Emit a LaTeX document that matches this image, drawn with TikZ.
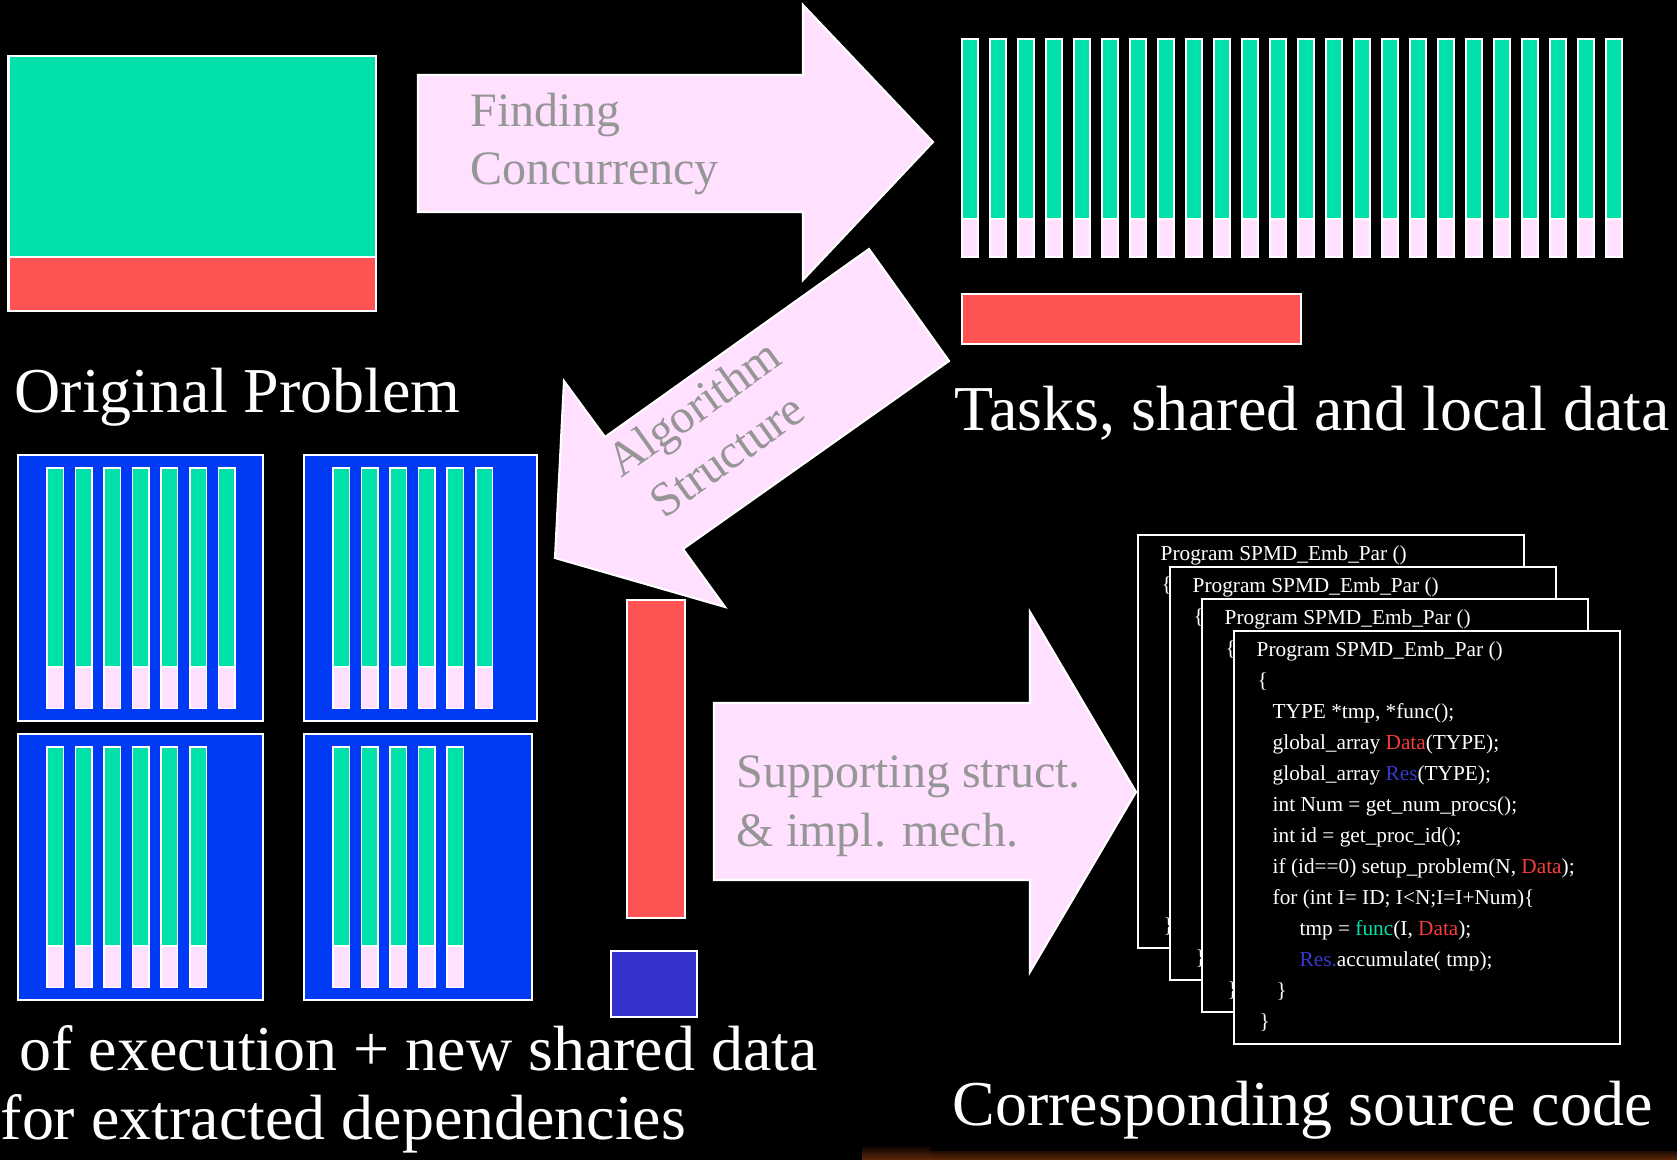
\documentclass[tikz,border=0pt]{standalone}
\usepackage{fontspec}
\setmainfont{Liberation Serif}
\definecolor{probgreen}{RGB}{0,226,170}
\definecolor{datared}{RGB}{255,82,82}
\definecolor{unitblue}{RGB}{0,58,245}
\definecolor{newblue}{RGB}{54,50,204}
\definecolor{stepink}{RGB}{255,224,255}
\definecolor{labelgray}{RGB}{150,150,150}
\definecolor{codered}{RGB}{245,60,60}
\definecolor{codeblue}{RGB}{55,55,210}
\definecolor{stripbrown}{RGB}{95,40,8}
\begin{document}
\begin{tikzpicture}[x=0.1mm,y=-0.1mm,
  box/.style={draw=white,line width=0.6pt},
  bar/.style={draw=white,line width=0.45pt},
  bigarrow/.style={fill=stepink,draw=white,line width=0.6pt},
  title/.style={text=white,font=\fontsize{18.2}{22}\selectfont,anchor=base west,inner sep=0pt},
  steptext/.style={text=labelgray,font=\fontsize{13.66}{16.5}\selectfont,inner sep=0pt},
  code/.style={text=white,font=\fontsize{6.06}{8}\selectfont,anchor=base west,inner sep=0pt}]
\fill[black] (0,0) rectangle (1677,1160);
\useasboundingbox (0,0) rectangle (1677,1160);

% original problem
\draw[box,fill=probgreen] (8.5,55.6) rectangle (376,257);
\draw[box,fill=datared] (8.5,257) rectangle (376,311);
\node (orig) at (14,413)[title] {Original Problem};

% tasks and data
\foreach \i in {0,...,23}
{
\draw[bar,fill=probgreen] ({962+28*\i},39) rectangle ({978+28*\i},219);
\draw[bar,fill=stepink] ({962+28*\i},219) rectangle ({978+28*\i},257);
}
\draw[box,fill=datared] (962,294) rectangle (1301,344);
\node (tasks) at (954,431)[title] {Tasks, shared and local data};

% units of execution
\foreach \px/\py/\pw/\n in {18.4/455/244.6/7, 304.4/455/232.6/6, 18.4/734/244.6/6, 304.4/734/227.3/5}
{
\draw[box,fill=unitblue] (\px,\py) rectangle ({\px+\pw},{\py+266});
\foreach \i in {1,...,\n}
 {
 \draw[bar,fill=probgreen] ({\px+28.4+28.6*(\i-1)},{\py+12.8}) rectangle ({\px+44.9+28.6*(\i-1)},{\py+212});
 \draw[bar,fill=stepink] ({\px+28.4+28.6*(\i-1)},{\py+212}) rectangle ({\px+44.9+28.6*(\i-1)},{\py+253.4});
 }
}
\draw[box,fill=datared] (627,600) rectangle (685,918);
\draw[box,fill=newblue] (611,951) rectangle (697,1017);
\node (exec) at (19,1071)[title] {of execution + new shared data};
\node (deps) at (0,1140)[title] {for extracted dependencies};

% arrows
\draw[bigarrow] (418,75) -- (803,75) -- (803,5) -- (933,142) -- (803,280) -- (803,212) -- (418,212) -- cycle;
\node (find1) at (470,127)[steptext,anchor=base west] {Finding};
\node (find2) at (470,185)[steptext,anchor=base west] {Concurrency};

\draw[bigarrow] (869,249) -- (949,361) -- (683,549) -- (725,607) -- (555,558) -- (564,381) -- (605,437) -- cycle;
\node (algo) at (710,431)[steptext,align=center,rotate=35.5] {Algorithm\\Structure};

\draw[bigarrow] (714,703) -- (1030,703) -- (1030,612) -- (1136,792) -- (1030,972) -- (1030,880) -- (714,880) -- cycle;
\node (supp1) at (736,788)[steptext,anchor=base west] {Supporting struct.};
\node (supp2) at (736,847)[steptext,anchor=base west] {\& impl. mech.};

% source code stack, back copies
\foreach \b in {0,...,2}
{
\draw[box,fill=black] ({1138+32*\b},{535+32*\b}) rectangle ({1524+32*\b},{948+32*\b});
\foreach \k/\ind/\line in {0/22/{Program SPMD\_Emb\_Par ()}, 1/23/{\{}, 12/25/{\}}}
  \node (code\b-\k) at ({1138+32*\b+\ind},{561+32*\b+31*\k})[code] {\line};
}
% front copy
\draw[box,fill=black] (1234,631) rectangle (1620,1044);
\foreach \k/\ind/\line in {0/22/{Program SPMD\_Emb\_Par ()},
   1/23/{\{},
   2/38/{TYPE *tmp, *func();},
   3/38/{global\_array \textcolor{codered}{Data}(TYPE);},
   4/38/{global\_array \textcolor{codeblue}{Res}(TYPE);},
   5/38/{int Num = get\_num\_procs();},
   6/38/{int id = get\_proc\_id();},
   7/38/{if (id==0) setup\_problem(N, \textcolor{codered}{Data});},
   8/38/{for (int I= ID; I<N;I=I+Num)\{},
   9/65/{tmp = \textcolor{probgreen}{func}(I, \textcolor{codered}{Data});},
   10/65/{\textcolor{codeblue}{Res.}accumulate( tmp);},
   11/42/{\}},
   12/25/{\}}}
  \node (code3-\k) at ({1234+\ind},{657+31*\k})[code] {\line};
\node (source) at (952,1126)[title] {Corresponding source code};

% bottom strip
\shade[top color=stripbrown!15!black,bottom color=stripbrown] (862,1147) rectangle (931,1160);
\shade[top color=stripbrown!40!black,bottom color=stripbrown] (931,1152) rectangle (1677,1160);
\end{tikzpicture}
\end{document}
